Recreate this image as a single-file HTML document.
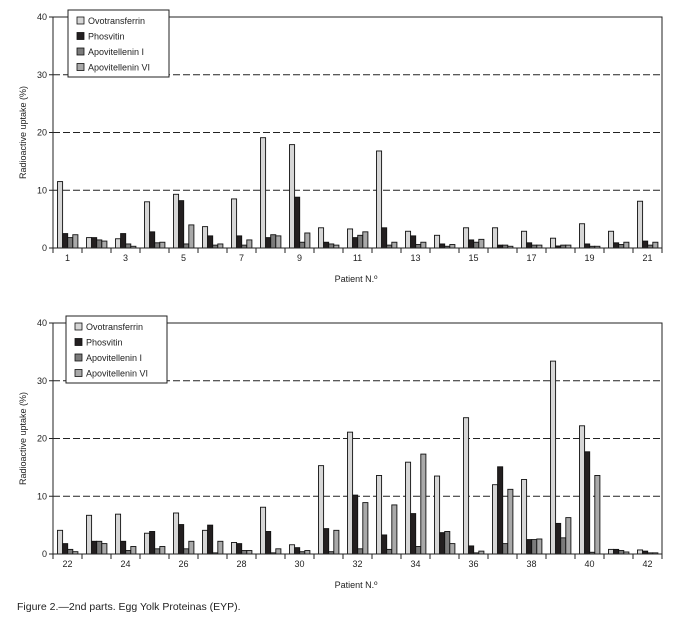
<!DOCTYPE html>
<html><head><meta charset="utf-8"><style>
body{margin:0;background:#fff;}
svg text{font-family:"Liberation Sans",sans-serif;fill:#222;}
</style></head><body>
<svg id="svg" width="674" height="625" xmlns="http://www.w3.org/2000/svg"></svg>
<script>
const seriesNames=["Ovotransferrin","Phosvitin","Apovitellenin I","Apovitellenin VI"];
const seriesColors=["#d6d6d6","#231f20","#7b7b7b","#a9a9a9"];
const yTicks=[0,10,20,30,40];
const patientsTop=[1,2,3,4,5,6,7,8,9,10,11,12,13,14,15,16,17,18,19,20,21];
const ovoTop=[11.5,1.8,1.6,8.0,9.3,3.7,8.5,19.1,17.9,3.5,3.3,16.8,2.9,2.2,3.5,3.5,2.9,1.7,4.2,2.9,8.1];
const phosTop=[2.5,1.8,2.5,2.8,8.2,2.1,2.1,1.8,8.8,1.0,1.8,3.5,2.1,0.7,1.4,0.5,0.9,0.35,0.7,0.9,1.2];
const apo1Top=[1.8,1.4,0.7,0.9,0.7,0.5,0.5,2.3,1.0,0.7,2.2,0.5,0.6,0.3,1.0,0.5,0.5,0.5,0.3,0.6,0.5];
const apo6Top=[2.3,1.2,0.3,1.0,4.0,0.7,1.4,2.1,2.6,0.5,2.8,1.0,1.0,0.6,1.5,0.3,0.5,0.5,0.3,1.0,1.0];
const patientsBot=[22,23,24,25,26,27,28,29,30,31,32,33,34,35,36,37,38,39,40,41,42];
const ovoBot=[4.1,6.7,6.9,3.6,7.1,4.1,2.0,8.1,1.6,15.3,21.1,13.6,15.9,13.5,23.6,12.0,12.9,33.4,22.2,0.8,0.7];
const phosBot=[1.8,2.2,2.2,3.9,5.1,5.0,1.8,3.9,1.1,4.4,10.2,3.3,7.0,3.7,1.4,15.1,2.5,5.3,17.7,0.8,0.5];
const apo1Bot=[0.8,2.2,0.6,0.9,0.9,0.2,0.6,0.2,0.4,0.4,0.9,0.8,1.3,3.9,0.2,1.8,2.5,2.8,0.3,0.6,0.2];
const apo6Bot=[0.4,1.8,1.3,1.3,2.2,2.2,0.6,0.9,0.6,4.1,8.9,8.5,17.3,1.8,0.5,11.2,2.6,6.3,13.6,0.35,0.2];

const svg=document.getElementById('svg');
const NS="http://www.w3.org/2000/svg";
function mk(tag,attrs,parent){const e=document.createElementNS(NS,tag);for(const k in attrs)e.setAttribute(k,attrs[k]);(parent||svg).appendChild(e);return e;}

function chart(name,top,bottom,patients,series,legendX,legendY){
  const g=mk('g',{});
  
  
  const L=53,R=662;
  const n=patients.length, gw=(R-L)/n;
  const y=v=>bottom-(v/40)*(bottom-top);
  const x=i=>L+i*gw;
  // grid
  yTicks.forEach(t=>{
    if(t>0&&t<40){const gl=mk('line',{x1:L,x2:R,y1:y(t),y2:y(t),stroke:'#222','stroke-width':1,'stroke-dasharray':'7,3'},g);
      }
    const tk=mk('line',{x1:L-4,x2:L,y1:y(t),y2:y(t),stroke:'#222'},g);
    
    const tl=mk('text',{x:L-6,y:y(t)+3,'font-size':9,'text-anchor':'end'},g);tl.textContent=t;
    
  });
  // bars
  const bw=5.1, pad=4.5;
  for(let i=0;i<n;i++){
    series.forEach((s,k)=>{
      const v=s[i];
      const b=mk('rect',{x:x(i)+pad+k*bw,y:y(v),width:bw,height:bottom-y(v),fill:seriesColors[k],stroke:'#111','stroke-width':0.9},g);
      
      
    });
  }
  // frame
  const fr=mk('path',{d:`M${L},${bottom} L${L},${top} L${R},${top} L${R},${bottom}`,fill:'none',stroke:'#222','stroke-width':1},g);
  
  const xa=mk('line',{x1:L,x2:R,y1:bottom,y2:bottom,stroke:'#222'},g);
  
  for(let i=0;i<=n;i++){const t=mk('line',{x1:x(i),x2:x(i),y1:bottom,y2:bottom+5,stroke:'#222'},g);
    }
  patients.forEach((p,i)=>{if(i%2==0){const t=mk('text',{x:x(i)+gw/2,y:bottom+13,'font-size':9,'text-anchor':'middle'},g);t.textContent=p;
    }});
  const xt=mk('text',{x:356,y:bottom+34,'font-size':9,'text-anchor':'middle'},g);xt.textContent='Patient N.º';
  
  const cy=(top+bottom)/2;
  const yt=mk('text',{x:26,y:cy,'font-size':9,'text-anchor':'middle',transform:`rotate(-90 26 ${cy})`},g);yt.textContent='Radioactive uptake (%)';
  
  // legend
  const lg=mk('g',{},g);
  
  mk('rect',{x:legendX,y:legendY,width:101,height:67,fill:'#fff',stroke:'#222'},lg);
  seriesNames.forEach((s,k)=>{
    const e=mk('g',{},lg);
    
    mk('rect',{x:legendX+9,y:legendY+7+k*15.5,width:7,height:7,fill:seriesColors[k],stroke:'#111','stroke-width':0.8},e);
    const t=mk('text',{x:legendX+20,y:legendY+14+k*15.5,'font-size':9},e);t.textContent=s;
  });
}
chart('chart-top',17,248,patientsTop,[ovoTop,phosTop,apo1Top,apo6Top],68,10);
chart('chart-bottom',323,554,patientsBot,[ovoBot,phosBot,apo1Bot,apo6Bot],66,316);
const cap=mk('text',{x:17,y:610,'font-size':10.5});cap.textContent='Figure 2.—2nd parts. Egg Yolk Proteinas (EYP).';

</script>
</body></html>
